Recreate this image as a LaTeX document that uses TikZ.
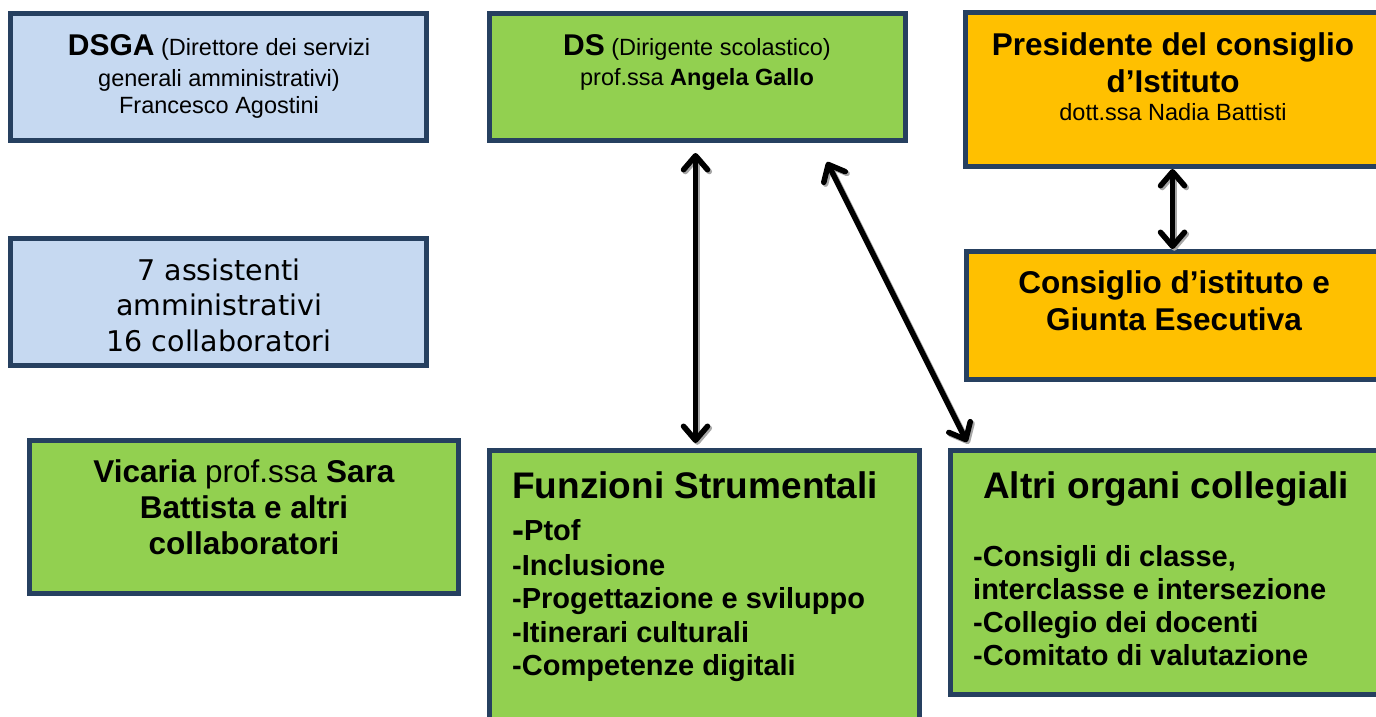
\documentclass[tikz,border=0pt]{standalone}
\usepackage{fontspec}
\setmainfont{Liberation Sans}
\newfontfamily\verd{DejaVu Sans}
\usetikzlibrary{arrows.meta,calc}
\definecolor{bord}{RGB}{38,64,96}
\definecolor{lblue}{RGB}{198,217,241}
\definecolor{lgreen}{RGB}{146,208,80}
\definecolor{orng}{RGB}{255,192,0}
\newcommand\fsz[1]{\fontsize{#1}{#1}\selectfont}
\newcommand\orgbox[6]{\node[orgbox,fill=#6,minimum width={#4-#2-5},minimum height={#5-#3-5}] (#1) at ({(#2+#4)/2},{(#3+#5)/2}) {};}
\begin{document}
\begin{tikzpicture}[x=1pt,y=-1pt,
  orgbox/.style={draw=bord,line width=5pt,rectangle,inner sep=0pt},
  t/.style={anchor=base,inner sep=0pt},
  tl/.style={anchor=base west,inner sep=0pt},
  tip/.tip={Straight Barb[length=14pt,width=24pt,line join=round,line cap=round]},
  arr/.style={line width=5.5pt,tip-tip,
    preaction={draw=black!35,line width=5.5pt,tip-tip,transform canvas={shift={(1.8pt,-1.8pt)}}}}]
\useasboundingbox (0,0) rectangle (1376,716);
\clip (0,0) rectangle (1376,716);
\fill[white] (0,0) rectangle (1376,716);
% boxes
\orgbox{dsga}{8}{11}{429}{143}{lblue}
\orgbox{ds}{487}{11}{908}{143}{lgreen}
\orgbox{pres}{963}{10}{1382}{169}{orng}
\orgbox{cons}{964}{249}{1382}{382}{orng}
\orgbox{asst}{8}{236}{429}{368}{lblue}
\orgbox{vic}{27}{438}{461}{596}{lgreen}
\orgbox{fs}{487}{448}{922}{730}{lgreen}
\orgbox{ao}{948}{448}{1390}{697}{lgreen}
% texts
\node[t,font=\fsz{23.5}] (dsgaA) at (219,55) {{\fsz{30}\bfseries DSGA} (Direttore dei servizi};
\node[t,font=\fsz{23.5}] (dsgaB) at (219,86) {generali amministrativi)};
\node[t,font=\fsz{23.5}] (dsgaC) at (219,113) {Francesco Agostini};
\node[t,font=\fsz{23.5}] (dsA) at (697,55) {{\fsz{30}\bfseries DS} (Dirigente scolastico)};
\node[t,font=\fsz{23.5}] (dsB) at (697,85) {prof.ssa \textbf{Angela Gallo}};
\node[t,font=\fsz{31.5}\bfseries] (presA) at (1173,55) {Presidente del consiglio};
\node[t,font=\fsz{31.5}\bfseries] (presB) at (1173,92) {d’Istituto};
\node[t,font=\fsz{23.5}] (presC) at (1173,120) {dott.ssa Nadia Battisti};
\node[t,font=\fsz{31.5}\bfseries] (consA) at (1174,293) {Consiglio d’istituto e};
\node[t,font=\fsz{31.5}\bfseries] (consB) at (1174,330) {Giunta Esecutiva};
\node[t,font=\verd\fsz{28.5}] (asstA) at (219,280) {7 assistenti};
\node[t,font=\verd\fsz{28.5}] (asstB) at (219,315) {amministrativi};
\node[t,font=\verd\fsz{28.5}] (asstC) at (219,351) {16 collaboratori};
\node[t,font=\fsz{31.5}] (vicA) at (244,482) {\textbf{Vicaria} prof.ssa \textbf{Sara}};
\node[t,font=\fsz{31.5}\bfseries] (vicB) at (244,518) {Battista e altri};
\node[t,font=\fsz{31.5}\bfseries] (vicC) at (244,554) {collaboratori};
\node[tl,font=\fsz{37}\bfseries] (fsT) at (512,498) {Funzioni Strumentali};
\node[tl,font=\fsz{29}\bfseries] (fs1) at (512,540) {\raisebox{-2pt}{\fsz{36}-}Ptof};
\node[tl,font=\fsz{29}\bfseries] (fs2) at (512,575) {-Inclusione};
\node[tl,font=\fsz{29}\bfseries] (fs3) at (512,608) {-Progettazione e sviluppo};
\node[tl,font=\fsz{29}\bfseries] (fs4) at (512,642) {-Itinerari culturali};
\node[tl,font=\fsz{29}\bfseries] (fs5) at (512,675) {-Competenze digitali};
\node[tl,font=\fsz{37}\bfseries] (aoT) at (983,498) {Altri organi collegiali};
\node[tl,font=\fsz{29}\bfseries] (ao1) at (973,566) {-Consigli di classe,};
\node[tl,font=\fsz{29}\bfseries] (ao2) at (973,599) {interclasse e intersezione};
\node[tl,font=\fsz{29}\bfseries] (ao3) at (973,632) {-Collegio dei docenti};
\node[tl,font=\fsz{29}\bfseries] (ao4) at (973,665) {-Comitato di valutazione};
% connectors
\coordinate (dsv) at ($(ds.south)+(-2,10)$);
\coordinate (fsv) at ($(ds.south |- fs.north)+(-2,-5)$);
\draw[arr] (dsv) -- (fsv);
\coordinate (dsd) at ($(ds.south east)+(-81,19)$);
\coordinate (aod) at ($(ao.north west)+(19,-6)$);
\draw[arr] (dsd) -- (aod);
\draw[arr] (pres.south) -- (pres.south |- cons.north);
\end{tikzpicture}
\end{document}
